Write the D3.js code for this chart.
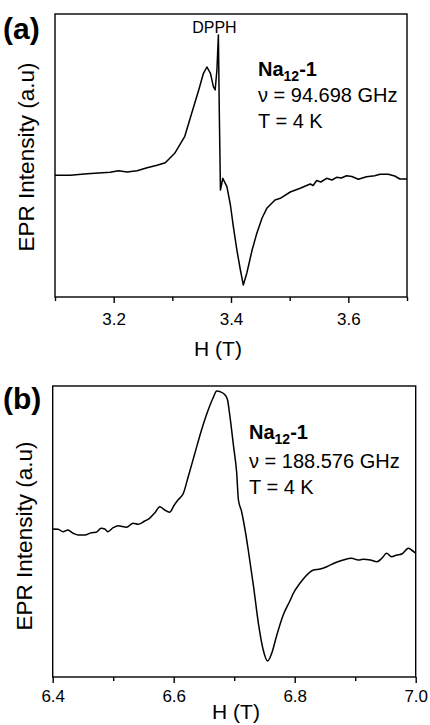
<!DOCTYPE html>
<html>
<head>
<meta charset="utf-8">
<script src="https://cdn.jsdelivr.net/npm/d3@7"></script>
<style>
  body { margin: 0; background: #fff; }
  text { font-family: "Liberation Sans", Arial, sans-serif; fill: #000; }
</style>
</head>
<body>
<div id="container"></div>
<script>
// panel (a): 94.698 GHz, field in T, intensity in arbitrary units
var fieldA = [3.100, 3.126, 3.155, 3.194, 3.208, 3.223, 3.240, 3.257, 3.274, 3.288,
  3.304, 3.321, 3.333, 3.345, 3.353, 3.359, 3.365, 3.370, 3.373, 3.376,
  3.3785, 3.380, 3.382, 3.386, 3.393, 3.399, 3.404, 3.410, 3.416, 3.421,
  3.427, 3.436, 3.444, 3.453, 3.461, 3.475, 3.484, 3.501, 3.518, 3.535,
  3.540, 3.546, 3.553, 3.563, 3.572, 3.580, 3.588, 3.597, 3.606, 3.617,
  3.631, 3.645, 3.654, 3.668, 3.679, 3.688, 3.700]
var intensityA = [121.7, 121.7, 123.3, 124.7, 126.3, 125, 126.3, 129.3, 131.7, 134.3,
  143.7, 160.3, 183.7, 207, 223.7, 230, 223.7, 210.3, 207, 227,
  262, 187, 107, 118.7, 110.3, 92, 70.3, 47, 27, 12,
  24, 47, 63.7, 79, 88.7, 97, 98.7, 105, 108.7, 113,
  111.5, 116.5, 115, 118.7, 117, 119.7, 119, 121.3, 120.5, 117.7,
  120.3, 121.3, 122.7, 122.7, 121, 118, 118]

// panel (b): 188.576 GHz
var fieldB = [6.400, 6.409, 6.417, 6.425, 6.434, 6.442, 6.453, 6.464, 6.472, 6.480,
  6.486, 6.491, 6.500, 6.508, 6.522, 6.533, 6.541, 6.552, 6.560, 6.569,
  6.577, 6.585, 6.593, 6.601, 6.607, 6.616, 6.624, 6.635, 6.646, 6.657,
  6.666, 6.671, 6.677, 6.685, 6.689, 6.693, 6.699, 6.704, 6.707, 6.712,
  6.718, 6.723, 6.732, 6.740, 6.748, 6.755, 6.762, 6.770, 6.781, 6.792,
  6.798, 6.809, 6.817, 6.831, 6.842, 6.853, 6.867, 6.880, 6.894, 6.905,
  6.913, 6.925, 6.936, 6.944, 6.952, 6.960, 6.969, 6.977, 6.988, 6.993, 7.000]
var intensityB = [148, 147.7, 145.3, 147, 143.7, 142, 142, 144.3, 144.7, 148.7,
  148, 145.3, 149.3, 151.3, 149.7, 153.7, 152.7, 156, 158.7, 164.3,
  170.3, 167, 164.7, 172, 177, 183.7, 200.3, 223.7, 247, 267,
  280.3, 286, 285.3, 282, 277, 260.3, 230.3, 205, 177, 166,
  147, 128, 90.3, 53.7, 27, 16, 23.7, 41, 62, 76,
  84, 94, 100, 107, 108, 110.3, 114.3, 117, 118.7, 117,
  117.7, 117, 115.3, 118.7, 123.7, 120.3, 122, 123, 128.7, 127, 123.7]

var majorTicksA = [3.2, 3.4, 3.6]
var minorTicksA = [3.1, 3.3, 3.5, 3.7]
var majorTicksB = [6.4, 6.6, 6.8, 7.0]
var minorTicksB = [6.5, 6.7, 6.9]

var svg = d3.select('#container')
  .append('svg')
  .attr('width', 430)
  .attr('height', 725)

function drawPanel(p) {
  var x = d3.scaleLinear().domain(p.xDomain).range([p.left, p.right])
  var y = d3.scaleLinear().domain(p.yDomain).range([p.bottom, p.top])
  var g = svg.append('g')

  // minor ticks (no labels)
  g.append('g')
    .attr('transform', 'translate(0,' + p.bottom + ')')
    .call(d3.axisBottom(x).tickValues(p.minor).tickSize(4).tickFormat(''))
    .call(a => a.select('.domain').remove())
  // major ticks
  g.append('g')
    .attr('transform', 'translate(0,' + p.bottom + ')')
    .call(d3.axisBottom(x).tickValues(p.major).tickSize(6).tickPadding(p.pad)
      .tickFormat(d3.format('.1f')))
    .call(a => a.select('.domain').remove())
    .call(a => a.selectAll('text').style('font-size', '17px'))
  g.selectAll('.tick line').attr('stroke', '#000').attr('stroke-width', 1.4)

  // frame
  g.append('rect')
    .attr('x', p.left).attr('y', p.top)
    .attr('width', p.right - p.left).attr('height', p.bottom - p.top)
    .attr('fill', 'none').attr('stroke', '#000').attr('stroke-width', 1.4)

  var pts = p.xs.map((d, i) => [d, p.ys[i]])
  g.append('path')
    .datum(pts)
    .attr('fill', 'none')
    .attr('stroke', '#000')
    .attr('stroke-width', 1.5)
    .attr('stroke-linejoin', 'round')
    .attr('d', d3.line().x(d => x(d[0])).y(d => y(d[1])).curve(p.curve))

  g.append('text')
    .attr('x', p.titleX).attr('y', p.titleY)
    .attr('text-anchor', 'middle')
    .style('font-size', '21px')
    .text('H (T)')

  g.append('text')
    .attr('transform', 'translate(' + p.ylabX + ',' + p.ylabY + ') rotate(-90)')
    .attr('text-anchor', 'middle')
    .style('font-size', '22.5px')
    .text('EPR Intensity (a.u)')

  g.append('text')
    .attr('x', 3).attr('y', p.tagY)
    .style('font-size', '30px').style('font-weight', 'bold')
    .text(p.tag)

  // sample annotation
  var t = g.append('text')
    .attr('x', p.noteX).attr('y', p.noteY)
    .style('font-size', '20px').style('font-weight', 'bold')
  t.append('tspan').text('Na')
  t.append('tspan').attr('dy', 5).style('font-size', '14px').text('12')
  t.append('tspan').attr('dy', -5).text('-1')

  g.append('text')
    .attr('x', p.noteX).attr('y', p.noteY + p.gap1)
    .style('font-size', '20px')
    .text('\u03bd = ' + p.freq)
  g.append('text')
    .attr('x', p.noteX).attr('y', p.noteY + p.gap1 + 26)
    .style('font-size', '20px')
    .text('T = 4 K')
  return x
}

var xA = drawPanel({
  left: 55, right: 407, top: 14, bottom: 297,
  xDomain: [3.1, 3.7], yDomain: [0, 283],
  xs: fieldA, ys: intensityA, major: majorTicksA, minor: minorTicksA,
  curve: d3.curveLinear, pad: 10,
  titleX: 218, titleY: 356, ylabX: 34, ylabY: 157,
  tag: '(a)', tagY: 39, noteX: 258, noteY: 76, gap1: 26,
  freq: '94.698 GHz'
})

svg.append('text')
  .attr('x', xA(3.3785) - 4).attr('y', 33)
  .attr('text-anchor', 'middle')
  .style('font-size', '16px')
  .text('DPPH')

drawPanel({
  left: 52.7, right: 415.7, top: 386, bottom: 677,
  xDomain: [6.4, 7.0], yDomain: [0, 291],
  xs: fieldB, ys: intensityB, major: majorTicksB, minor: minorTicksB,
  curve: d3.curveMonotoneX, pad: 7,
  titleX: 236, titleY: 719, ylabX: 32, ylabY: 536,
  tag: '(b)', tagY: 409, noteX: 249, noteY: 439, gap1: 29,
  freq: '188.576 GHz'
})
</script>
</body>
</html>
